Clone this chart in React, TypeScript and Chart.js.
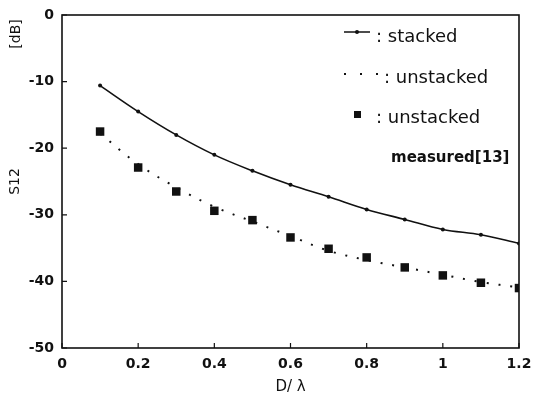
import React, { useEffect, useRef } from "react";
import { Chart, registerables } from "chart.js";

Chart.register(...registerables);

const xValues = [0.1, 0.2, 0.3, 0.4, 0.5, 0.6, 0.7, 0.8, 0.9, 1.0, 1.1, 1.2];
const stacked = [-10.6, -14.5, -18.0, -21.0, -23.4, -25.5, -27.3, -29.2, -30.7, -32.2, -33.0, -34.3];
const unstackedCalc = [-17.8, -22.4, -25.9, -28.8, -31.0, -33.2, -35.4, -36.8, -37.9, -39.0, -40.1, -40.9];
const unstackedMeasured = [-17.5, -22.9, -26.5, -29.4, -30.8, -33.4, -35.1, -36.4, -37.9, -39.1, -40.2, -41.0];
const legendLabels = [": stacked", ": unstacked", ": unstacked", "measured[13]"];
const xTitle = "D/ λ";
const yTitle = "S12";
const yUnit = "[dB]";

const FONT = "'DejaVu Sans', sans-serif";

const framePlugin = {
  id: "frame",
  afterDraw(chart: any) {
    const { ctx, chartArea } = chart;
    const xs = chart.scales.x;
    const ys = chart.scales.y;
    ctx.save();
    ctx.strokeStyle = "#111";
    ctx.lineWidth = 1.6;
    ctx.strokeRect(chartArea.left, chartArea.top, chartArea.right - chartArea.left, chartArea.bottom - chartArea.top);
    ctx.lineWidth = 1.2;
    ctx.beginPath();
    xs.ticks.forEach((t: any) => {
      const px = xs.getPixelForValue(t.value);
      ctx.moveTo(px, chartArea.bottom);
      ctx.lineTo(px, chartArea.bottom - 5);
    });
    ys.ticks.forEach((t: any) => {
      const py = ys.getPixelForValue(t.value);
      ctx.moveTo(chartArea.left, py);
      ctx.lineTo(chartArea.left + 5, py);
    });
    ctx.stroke();

    // unit label
    ctx.fillStyle = "#111";
    ctx.font = `14px ${FONT}`;
    ctx.translate(16, 34);
    ctx.rotate(-Math.PI / 2);
    ctx.textAlign = "center";
    ctx.textBaseline = "middle";
    ctx.fillText(yUnit, 0, 0);
    ctx.restore();

    // legend
    ctx.save();
    ctx.fillStyle = "#111";
    ctx.strokeStyle = "#111";
    ctx.textBaseline = "alphabetic";
    ctx.textAlign = "left";
    ctx.font = `18px ${FONT}`;
    // stacked
    ctx.lineWidth = 1.5;
    ctx.beginPath();
    ctx.moveTo(344, 32);
    ctx.lineTo(370, 32);
    ctx.stroke();
    ctx.beginPath();
    ctx.arc(357, 32, 2, 0, Math.PI * 2);
    ctx.fill();
    ctx.fillText(legendLabels[0], 376, 42);
    // unstacked dotted
    [345, 361, 377].forEach((dx) => ctx.fillRect(dx - 1, 73, 2, 2));
    ctx.fillText(legendLabels[1], 384, 83);
    // measured square
    ctx.fillRect(354, 111, 7, 7);
    ctx.fillText(legendLabels[2], 376, 123);
    ctx.font = `bold 15px ${FONT}`;
    ctx.fillText(legendLabels[3], 391, 162);
    ctx.restore();
  },
};

export default function App() {
  const ref = useRef<HTMLCanvasElement>(null);
  useEffect(() => {
    document.body.style.margin = "0";
    const chart = new Chart(ref.current!, {
      type: "line",
      data: {
        datasets: [
          {
            label: "stacked",
            data: xValues.map((x, i) => ({ x, y: stacked[i] })),
            borderColor: "#111",
            backgroundColor: "#111",
            borderWidth: 1.6,
            pointRadius: 2,
            pointBorderWidth: 0,
            tension: 0.35,
          },
          {
            label: "unstacked",
            data: xValues.map((x, i) => ({ x, y: unstackedCalc[i] })),
            borderColor: "#111",
            borderWidth: 2,
            borderDash: [2, 10],
            pointRadius: 0,
            tension: 0.35,
          },
          {
            label: "measured",
            data: xValues.map((x, i) => ({ x, y: unstackedMeasured[i] })),
            showLine: false,
            pointStyle: "rect",
            pointRadius: 6,
            pointBorderWidth: 0,
            backgroundColor: "#111",
            borderColor: "#111",
          },
        ],
      },
      options: {
        animation: false,
        responsive: false,
        layout: { padding: { top: 15, right: 15, left: 0, bottom: 0 } },
        plugins: { legend: { display: false }, tooltip: { enabled: false } },
        scales: {
          x: {
            type: "linear",
            min: 0,
            max: 1.2,
            grid: { display: false, drawTicks: false },
            border: { display: false },
            ticks: {
              stepSize: 0.2,
              padding: 8,
              color: "#111",
              font: { family: FONT, size: 14, weight: "bold" },
              callback: (v: any) => String(Number(Number(v).toFixed(1))),
            },
            title: {
              display: true,
              text: xTitle,
              color: "#111",
              font: { family: FONT, size: 15 },
              padding: { top: 0, bottom: 6 },
            },
            afterFit: (s: any) => {
              s.height = 54;
              s.paddingLeft = 0;
              s.paddingRight = 0;
            },
          },
          y: {
            type: "linear",
            min: -50,
            max: 0,
            grid: { display: false, drawTicks: false },
            border: { display: false },
            ticks: {
              stepSize: 10,
              padding: 8,
              color: "#111",
              font: { family: FONT, size: 14, weight: "bold" },
            },
            title: {
              display: true,
              text: yTitle,
              color: "#111",
              font: { family: FONT, size: 14 },
              padding: { top: 7, bottom: 0 },
            },
            afterFit: (s: any) => {
              s.width = 62;
              s.paddingTop = 0;
              s.paddingBottom = 0;
            },
          },
        },
      },
      plugins: [framePlugin],
    });
    return () => chart.destroy();
  }, []);
  return <canvas ref={ref} width={534} height={402} style={{ display: "block" }} />;
}
